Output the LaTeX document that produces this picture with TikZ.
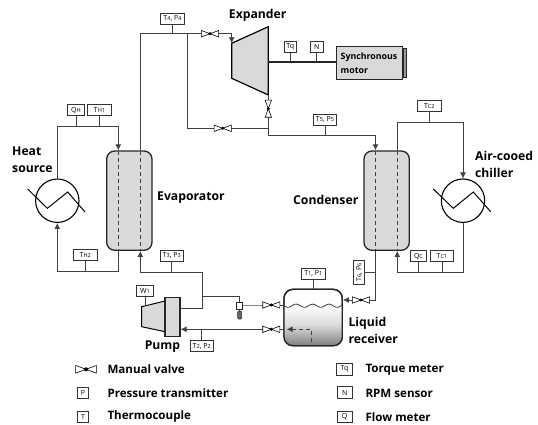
\documentclass[tikz,border=0pt]{standalone}
\usepackage{fontspec}
\setmainfont{Open Sans}
\usepackage{tikz}
\usetikzlibrary{calc,arrows.meta}
\newcommand{\low}[1]{{\fontsize{5.6}{6}\selectfont #1}}
\tikzset{valve/.pic={
    \draw[fill=white,line width=0.6pt] (-8.6,-3.2) -- (0,0) -- (-8.6,3.2) -- cycle;
    \draw[fill=white,line width=0.6pt] (8.6,-3.2) -- (0,0) -- (8.6,3.2) -- cycle;
    \fill (0,0) circle (1.7);}}
\begin{document}
\begin{tikzpicture}[x=1pt,y=-1pt,
    pipe/.style={draw=black!75, line width=0.85pt},
    flow/.style={pipe, -{Latex[length=6pt,width=6pt]}},
    inner/.style={draw=black!75, line width=0.8pt, dashed, dash pattern=on 4pt off 3pt},
    tag/.style={rectangle, draw=black!80, fill=white, line width=0.7pt, inner sep=0pt, minimum width=23.5, minimum height=11, font=\fontsize{7}{8}\selectfont},
    small/.style={tag, minimum width=12.5},
    mid/.style={tag, minimum width=16.5},
    vessel/.style={rectangle, draw=black!85, fill=black!15, line width=1.3pt, rounded corners=8, minimum width=45.3, minimum height=99.3, inner sep=0pt},
    lbl/.style={font=\fontsize{12.2}{17}\selectfont\bfseries, align=left, inner sep=0pt},
    leg/.style={font=\fontsize{11.6}{13}\selectfont\bfseries, anchor=west, inner sep=0pt}]

    \useasboundingbox (0,0) rectangle (538,425);

    % vessels and machines
    \node[vessel] (evap) at (129.35,200.65) {};
    \node[vessel] (cond) at (386.65,200.65) {};
    \node[draw=black, line width=1.1pt, circle, minimum size=43.4, inner sep=0pt] (hs) at (57.3,200.7) {};
    \node[draw=black, line width=1.1pt, circle, minimum size=43.4, inner sep=0pt] (ch) at (463,200.7) {};
    \draw[line width=1pt] (27.7,189) -- (47.3,208.3) -- (67.7,192) -- (85,212);
    \draw[line width=1pt] (433.3,189) -- (453.3,208.3) -- (473.3,192) -- (490.7,211.7);
    \draw[line width=1.2pt, fill=black!15] (231.7,43.3) coordinate (expin) -- (268.3,26.7) -- (268.3,95) coordinate (expout) -- (231.7,78.3) -- cycle;
    \coordinate (shaft) at (268.3,62.3);
    \node[rectangle, draw=black!85, fill=black!15, line width=1.2pt, minimum width=65.6, minimum height=33.4, inner sep=0pt] (motor) at (369.5,63) {};
    \node[rectangle, draw=black!85, fill=black!40, line width=0.8pt, minimum width=3.4, minimum height=28.3, inner sep=0pt, anchor=west] (plate) at (motor.east) {};
    \node[lbl, anchor=west, font=\fontsize{8.8}{14}\selectfont\bfseries] (motortxt) at (340.5,63) {Synchronous\\motor};
    \draw[line width=1.6pt, black!85] (shaft) -- (shaft -| motor.west);

    % pump
    \draw[line width=1pt, fill=black!15] (141.7,306.7) coordinate (pumpa) -- (165,301) -- (165,331.7) -- (141.7,326.7) -- cycle;
    \node[rectangle, draw=black!85, fill=black!15, line width=1.2pt, minimum width=15, minimum height=39.4, inner sep=0pt] (pump) at (172.5,317) {};

    % liquid receiver
    \node[vessel, fill=white, minimum width=58.3, minimum height=56.4, rounded corners=9] (rec) at (313.15,317.5) {};
    \begin{scope}
      \clip[rounded corners=9] (rec.north west) rectangle (rec.south east);
      \shade[top color=white, bottom color=black!50, middle color=black!14] plot[domain=284:342.3, samples=70] (\x,{305.7+1.6*sin(22*(\x-284))}) -- (342.3,345.7) -- (284,345.7) -- cycle;
    \end{scope}
    \draw[line width=0.8pt, black!75] plot[domain=284:342.3, samples=70] (\x,{305.7+1.6*sin(22*(\x-284))});
    \node[vessel, fill=none, minimum width=58.3, minimum height=56.4, rounded corners=9] (recb) at (313.15,317.5) {};

    % valve positions
    \coordinate (v1) at (210,33.7);
    \coordinate (v2) at (222.7,128.3);
    \coordinate (v3) at (268.3,108.7);
    \coordinate (v4) at (271.3,305);
    \coordinate (v5) at (271.3,329.3);
    \coordinate (v6) at (361,300);
    \coordinate (a) at (140.3,33.7);
    \coordinate (b) at (187.3,33.7);
    \coordinate (c) at (268.3,128.3);
    \coordinate (d) at (375.5,135);
    \coordinate (e) at (57.3,126.7);
    \coordinate (f) at (57.3,271.3);
    \coordinate (g) at (140.3,272);
    \coordinate (h) at (202.3,272);
    \coordinate (i) at (202.3,296);
    \coordinate (j) at (375.5,272.3);
    \coordinate (k) at (397.3,122.3);
    \coordinate (l) at (397.3,272);
    \coordinate (m) at (202.3,329.3);

    % pipes
    \draw[pipe] (evap.north -| a) -- (a) -- (v1);
    \draw[flow] (v1) -| (expin);
    \draw[pipe] (b) |- (v2);
    \draw[pipe] (v2) -- (c);
    \draw[pipe] (expout) -- (v3);
    \draw[pipe] (v3) -- (c) |- (d);
    \draw[flow] (d) -- (cond.north -| d);
    \draw[pipe] (hs.north) -- (e);
    \draw[flow] (e) -| (evap.north -| 118.3,0);
    \draw[pipe] (evap.south -| 118.3,0) |- (f);
    \draw[flow] (f) -- (hs.south);
    \draw[pipe] (h) -- (g);
    \draw[flow] (g) -- (evap.south -| g);
    \draw[pipe] (h) -- (202.3,308.3) coordinate (hb) -- (hb -| pump.east);
    \draw[pipe] (i) -| (239.7,301.7) coordinate (gauge);
    \draw[pipe] (k) -- (cond.north -| k);
    \draw[flow] (k) -| (ch.north);
    \draw[pipe] (ch.south) |- (l);
    \draw[flow] (l) -- (cond.south -| l);
    \draw[pipe] (cond.south -| j) |- (v6);
    \draw[flow] (v6) -- (v6 -| rec.east);
    \draw[pipe] (gauge |- v4) -- (v4) -- (v4 -| rec.west);
    \draw[flow] (v5 -| rec.west) -- (v5) -- (v5 -| pump.east);
    \draw[inner, -{Latex[length=6pt,width=6pt]}] (311.7,341.7) |- (286.7,329.3);
    \draw[inner] (118.3,151) -- (118.3,250.3);
    \draw[inner] (140.3,151) -- (140.3,250.3);
    \draw[inner] (375.3,151) -- (375.3,250.3);
    \draw[inner] (397.3,151) -- (397.3,250.3);

    % gauge on the pump line
    \node[rectangle, draw=black!85, fill=white, line width=0.8pt, minimum width=6, minimum height=7.6, inner sep=0pt, anchor=north] (gbox) at (gauge) {};
    \node[rectangle, draw=black!85, fill=black!60, rounded corners=1, line width=0.5pt, minimum width=4, minimum height=8, inner sep=0pt] (gprobe) at (239.7,315) {};
    \draw[pipe, line width=0.5pt] (gbox) -- (gprobe);

    % valves
    \pic at (v1) {valve};
    \pic at (v2) {valve};
    \pic[rotate=90] at (v3) {valve};
    \pic at (v4) {valve};
    \pic at (v5) {valve};
    \pic at (v6) {valve};

    % instruments
    \node[tag] (t4) at (172.5,18.5) {T\low{4}, P\low{4}};
    \node[tag] (t5) at (325,119.7) {T\low{5}, P\low{5}};
    \node[small] (tq) at (290.3,46.8) {Tq};
    \node[small] (nn) at (316.7,46.8) {N};
    \node[mid] (qh) at (76,110.2) {Q\low{H}};
    \node[tag] (th1) at (99.5,110.2) {T\low{H1}};
    \node[tag] (th2) at (85.3,254.7) {T\low{H2}};
    \node[tag] (t3) at (171.8,255.7) {T\low{3}, P\low{3}};
    \node[tag] (tc2) at (429.3,106.2) {T\low{C2}};
    \node[mid] (qc) at (418.5,256.3) {Q\low{C}};
    \node[tag] (tc1) at (442,256.3) {T\low{C1}};
    \node[mid] (w1) at (145,290.7) {W\low{1}};
    \node[tag] (t1) at (313.3,273.8) {T\low{1}, P\low{1}};
    \node[tag] (t2) at (201.7,346.2) {T\low{2}, P\low{2}};
    \node[tag, rotate=90, minimum width=24.3] (t6) at (359.2,272.2) {T\low{6}, P\low{6}};
    \draw[pipe] (t4.south) -- (t4.south |- a);
    \draw[pipe] (t5.south) -- (t5.south |- d);
    \draw[pipe] (tq.south) -- (tq.south |- shaft);
    \draw[pipe] (nn.south) -- (nn.south |- shaft);
    \draw[pipe] (qh.south) -- (qh.south |- e);
    \draw[pipe] (th1.south) -- (th1.south |- e);
    \draw[pipe] (th2.south) -- (th2.south |- f);
    \draw[pipe] (t3.south) -- (t3.south |- g);
    \draw[pipe] (tc2.south) -- (tc2.south |- k);
    \draw[pipe] (qc.south) -- (qc.south |- l);
    \draw[pipe] (tc1.south) -- (tc1.south |- l);
    \draw[pipe] (w1.south) -- (145,305.8);
    \draw[pipe] (t1.south) -- (t1.south |- rec.north);
    \draw[pipe] (t2.north) -- (t2.north |- m);
    \draw[pipe] (t6.south) -- (t6.south -| j);

    % component names
    \node[lbl, anchor=center] (lexp) at (257.7,15) {Expander};
    \node[lbl, anchor=north west] (lheat) at (12,146.5) {Heat\\source};
    \node[lbl, anchor=west] (levap) at (157,197.5) {Evaporator};
    \node[lbl, anchor=east] (lcond) at (358.5,200) {Condenser};
    \node[lbl, anchor=north west] (lchil) at (475,151) {Air-cooed\\chiller};
    \node[lbl, anchor=north west] (lrec) at (348.3,317.5) {Liquid\\receiver};
    \node[lbl, anchor=center] (lpump) at (162.5,346.5) {Pump};

    % legend
    \pic[scale=1.2] at (86,369.3) {valve};
    \node[small, minimum width=10.6] (kp) at (83,393) {P};
    \node[small, minimum width=10.6] (kt) at (83,416.5) {T};
    \node[small, minimum width=15.6, minimum height=12] (ktq) at (344.5,369.3) {Tq};
    \node[small, minimum width=15, minimum height=11.6] (kn) at (344.7,392.5) {N};
    \node[small, minimum width=15, minimum height=11.6] (kq) at (344.7,417) {Q};
    \node[leg] (lv) at (107.3,369.3) {Manual valve};
    \node[leg] (lp) at (107.3,392.8) {Pressure transmitter};
    \node[leg] (lt) at (107.3,416.5) {Thermocouple};
    \node[leg] (ltq) at (365.3,369.3) {Torque meter};
    \node[leg] (ln) at (365.3,393) {RPM sensor};
    \node[leg] (lq) at (365.3,417) {Flow meter};
\end{tikzpicture}
\end{document}
